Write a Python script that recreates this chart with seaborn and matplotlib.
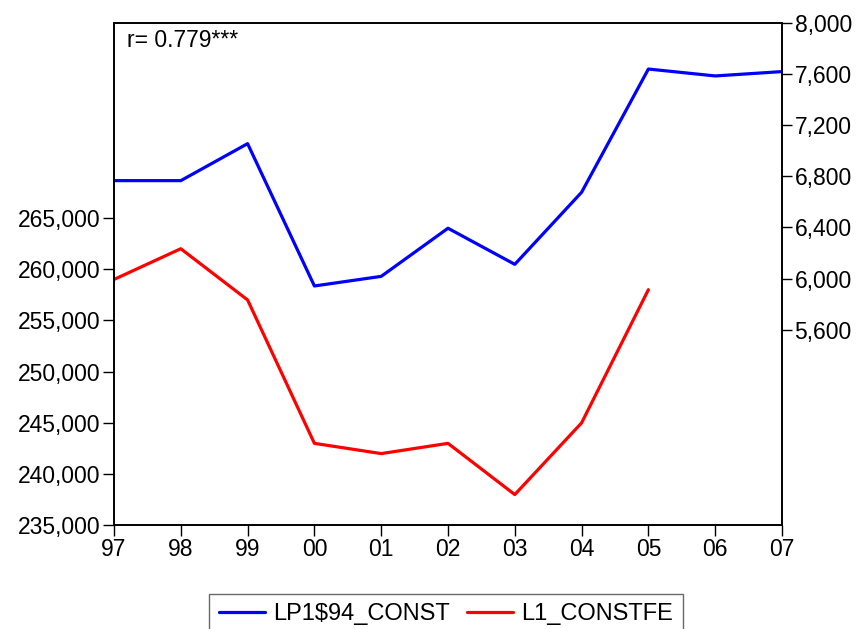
import numpy as np
import pandas as pd
import matplotlib
matplotlib.use("Agg")
import matplotlib.pyplot as plt
import seaborn as sns
from matplotlib.ticker import FuncFormatter

years = ["97", "98", "99", "00", "01", "02", "03", "04", "05", "06", "07"]
lp1_const = [6766, 6766, 7055, 5943, 6018, 6394, 6112, 6675, 7638, 7584, 7618]
l1_constfe = [259000, 262000, 257000, 243000, 242000, 243000, 238000, 245000, 258000, np.nan, np.nan]
left_ticks = [235000, 240000, 245000, 250000, 255000, 260000, 265000]
right_ticks = [5600, 6000, 6400, 6800, 7200, 7600, 8000]
annotation = "r= 0.779***"

sns.set_theme(style="white")
plt.rcParams["font.family"] = ["Liberation Sans", "DejaVu Sans"]
plt.rcParams["text.color"] = "black"
plt.rcParams["xtick.color"] = "black"
plt.rcParams["ytick.color"] = "black"

df_blue = pd.DataFrame({"x": np.arange(len(years)), "y": lp1_const})
df_red = pd.DataFrame({"x": np.arange(len(years)), "y": l1_constfe})

fig = plt.figure(figsize=(8.61, 6.29), dpi=100)
ax = fig.add_axes([114/861, 1-525.3/629, (782-114)/861, (525.3-22.7)/629])
ax2 = ax.twinx()

sns.lineplot(data=df_red.dropna(), x="x", y="y", ax=ax, color="#ff0000", linewidth=2.3, label="L1_CONSTFE", legend=False)
sns.lineplot(data=df_blue, x="x", y="y", ax=ax2, color="#0000ff", linewidth=2.3, label="LP1$94_CONST", legend=False)

ax.set_xlim(0, len(years) - 1)
ax.set_ylim(235000, 284064)
ax2.set_ylim(4073, 8000)
ax.set_xticks(np.arange(len(years)))
ax.set_xticklabels(years)
ax.set_yticks(left_ticks)
ax2.set_yticks(right_ticks)
fmt = FuncFormatter(lambda v, p: f"{int(round(v)):,}")
ax.yaxis.set_major_formatter(fmt)
ax2.yaxis.set_major_formatter(fmt)
ax.set_xlabel("")
ax.set_ylabel("")
ax2.set_ylabel("")

fs = 16.5
for a in (ax, ax2):
    for s in a.spines.values():
        s.set_visible(True)
        s.set_color("black")
        s.set_linewidth(1.2)
ax.tick_params(axis="x", direction="out", length=8, width=1, colors="black", labelsize=fs, pad=1, bottom=True)
ax.tick_params(axis="y", direction="out", length=8, width=1, colors="black", labelsize=fs, pad=2, left=True)
ax2.tick_params(axis="y", direction="out", length=7, width=1, colors="black", labelsize=fs, pad=2, right=True)

ax.text(0.019, 0.988, annotation, transform=ax.transAxes, ha="left", va="top", fontsize=fs, color="black")

h1, l1 = ax2.get_legend_handles_labels()
h2, l2 = ax.get_legend_handles_labels()
leg = fig.legend(h1 + h2, l1 + l2, loc="upper center", bbox_to_anchor=(0.518, 1 - 594/629), ncol=2,
                 fontsize=17, frameon=True, fancybox=False, edgecolor="#444444", handlelength=1.95,
                 columnspacing=0.75, handletextpad=0.35, borderpad=0.4, borderaxespad=0)
leg.get_frame().set_linewidth(1.0)
for t in leg.get_texts():
    t.set_color("black")

fig.savefig("out.png", dpi=100)
